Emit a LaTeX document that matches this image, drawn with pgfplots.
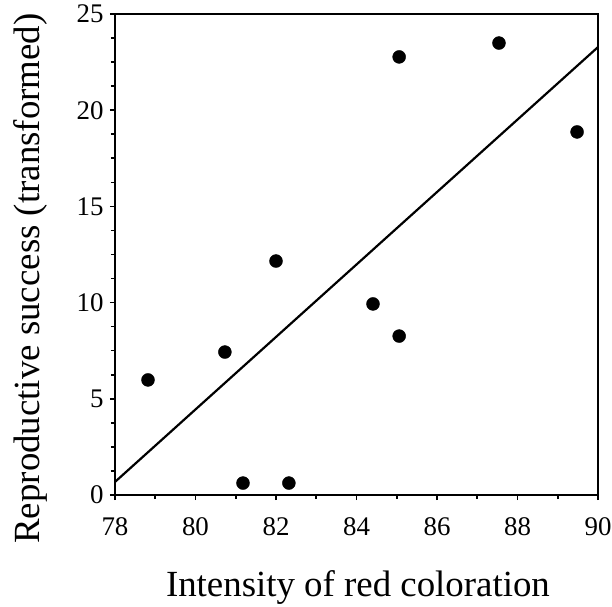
\documentclass[border=0pt]{standalone}
\usepackage{pgfplots}
\pgfplotsset{compat=1.18}
\usepackage{fontspec}
\setmainfont{Liberation Serif}

\begin{document}
\begin{tikzpicture}[x=1bp,y=1bp]
% page frame in reference pixels, axis box at the origin
\useasboundingbox (-115bp,-112bp) rectangle (497bp,495bp);
\begin{axis}[
    scale only axis,
    width=483bp,
    height=481bp,
    xmin=78, xmax=90,
    ymin=0, ymax=25,
    xtick={78,80,...,90},
    ytick={0,5,...,25},
    minor x tick num=1,
    minor y tick num=3,
    tick align=outside,
    tick pos=left,
    major tick length=5bp,
    minor tick length=4bp,
    every tick/.style={black, line width=1.6pt},
    axis line style={line width=2.4pt},
    xticklabel={\pgfmathprintnumber[assume math mode=true]{\tick}},
    yticklabel={\pgfmathprintnumber[assume math mode=true]{\tick}},
    tick label style={font=\fontsize{27}{27}\selectfont},
    xticklabel style={yshift=-14bp},
    yticklabel style={xshift=-3bp},
    xlabel={Intensity of red coloration},
    ylabel={Reproductive success (transformed)},
    label style={font=\fontsize{37}{37}\selectfont},
    xlabel style={at={(axis description cs:0.503,-0.212)}, anchor=base},
    ylabel style={at={(axis description cs:-0.157,0.45)}, anchor=base, rotate=0},
    clip=false,
]
\addplot[only marks, mark=*, mark size=6.5bp, black] coordinates {
    (78.82,5.98) (80.73,7.43) (81.18,0.62) (82.00,12.16) (82.32,0.62)
    (84.41,9.93) (85.06,8.26) (85.06,22.77) (87.54,23.49) (89.48,18.87)
};
\addplot[black, line width=2.2pt] coordinates {(78,0.68) (90,23.28)};
\end{axis}
\end{tikzpicture}
\end{document}
